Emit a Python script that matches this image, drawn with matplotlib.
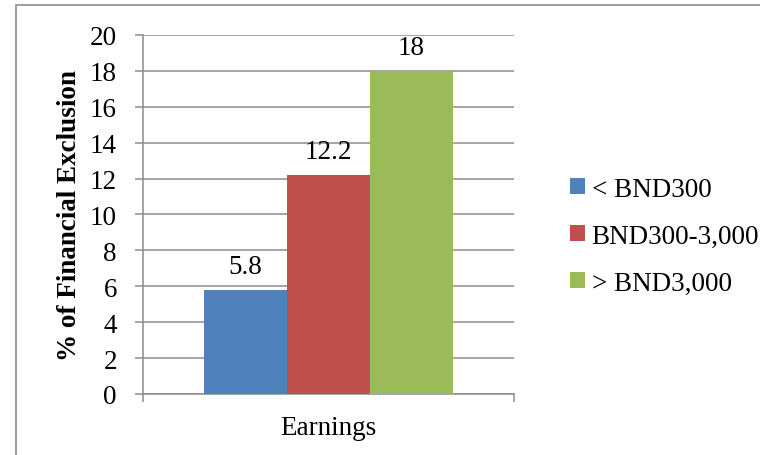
import numpy as np
import matplotlib.pyplot as plt
from matplotlib.patches import Rectangle

# Financial exclusion by earnings band
categories = ['< BND300', 'BND300-3,000', '> BND3,000']
values = [5.8, 12.2, 18]
colors = ['#4F81BD', '#C0504D', '#9BBB59']
group_label = 'Earnings'

plt.rcParams['font.family'] = 'Liberation Serif'
grid_color = '#8C8C8C'
fs = 19.5

fig = plt.figure(figsize=(7.6, 4.56), dpi=100)
ax = fig.add_axes([0.1882, 0.1338, 0.4882, 0.7873])

# outer chart border (runs off the right and bottom edges)
fig.patches.append(Rectangle((16 / 760, -0.1), 2.0, 1 - 6 / 456 + 0.1,
                             transform=fig.transFigure, fill=False,
                             edgecolor='#8C8C8C', linewidth=1.2))

width = 0.2237
offsets = np.arange(len(values)) - 1
for off, val, col, lab in zip(offsets, values, colors, categories):
    ax.bar(0.5 + off * width, val, width=width, color=col, label=lab, zorder=3)
    ax.annotate(f'{val:g}', (0.5 + off * width, val), xytext=(0, 12),
                textcoords='offset points', ha='center', va='baseline',
                fontsize=fs)

ax.set_xlim(0, 1)
ax.set_ylim(0, 20)
ax.set_yticks(np.arange(0, 21, 2))
ax.set_xticks([0, 1])
ax.set_xticklabels([])
ax.grid(axis='y', color=grid_color, linewidth=1.1, zorder=0)
ax.tick_params(axis='both', direction='out', length=5.8, width=1.1,
               color=grid_color, labelsize=fs)
ax.tick_params(axis='y', pad=13)
for side in ['top', 'right']:
    ax.spines[side].set_visible(False)
for side in ['left', 'bottom']:
    ax.spines[side].set_color(grid_color)
    ax.spines[side].set_linewidth(1.1)

ax.set_xlabel(group_label, fontsize=fs, labelpad=6)
ax.set_ylabel('% of Financial Exclusion', fontsize=fs, fontweight='bold',
              labelpad=5.5)

ax.legend(loc='center left', bbox_to_anchor=(1.113, 0.439), frameon=False,
          borderpad=0, fontsize=fs, handlelength=0.56, handleheight=0.52,
          handletextpad=0.26, labelspacing=0.81)

fig.savefig('out.png', dpi=100)
